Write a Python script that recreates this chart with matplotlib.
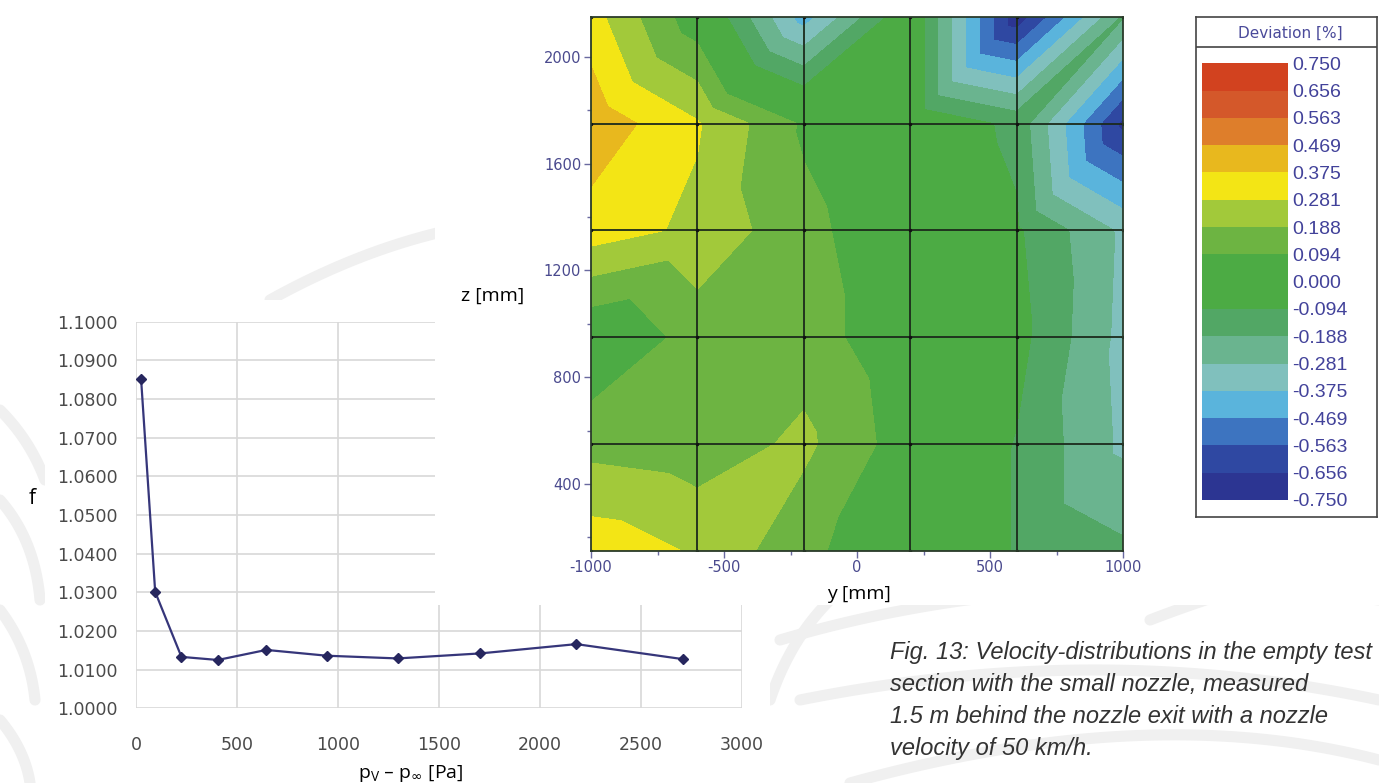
import matplotlib
matplotlib.use("Agg")
import matplotlib.pyplot as plt
import matplotlib.tri as mtri
import numpy as np
from matplotlib.colors import BoundaryNorm, ListedColormap

plt.rcParams["axes.unicode_minus"] = False

W, H = 1379, 783

# --- line chart: factor f over p_V - p_inf ---
dp = [25, 95, 225, 405, 645, 945, 1295, 1705, 2180, 2710]
f_val = [1.0853, 1.0301, 1.0133, 1.0125, 1.0151, 1.0136, 1.0129, 1.0142, 1.0166, 1.0127]
dp_ticks = [0, 500, 1000, 1500, 2000, 2500, 3000]
f_ticks = [1.00, 1.01, 1.02, 1.03, 1.04, 1.05, 1.06, 1.07, 1.08, 1.09, 1.10]

# --- contour: deviation measured on a 6 x 6 grid ---
grid_y = [-1000, -600, -200, 200, 600, 1000]
grid_z = [150, 550, 950, 1350, 1750, 2150]
deviation = [
    [0.34, 0.27, 0.12, 0.00, -0.10, -0.17],    # z = 150
    [0.155, 0.13, 0.21, 0.04, -0.10, -0.30],   # z = 550
    [0.00, 0.13, 0.14, 0.02, -0.06, -0.31],    # z = 950
    [0.33, 0.26, 0.12, 0.02, -0.08, -0.30],    # z = 1350
    [0.44, 0.29, 0.08, 0.00, -0.12, -0.68],    # z = 1750
    [0.32, 0.03, -0.42, 0.00, -0.72, -0.18],   # z = 2150
]
level_labels = ["0.750", "0.656", "0.563", "0.469", "0.375", "0.281", "0.188",
                "0.094", "0.000", "-0.094", "-0.188", "-0.281", "-0.375",
                "-0.469", "-0.563", "-0.656", "-0.750"]
# band colours, lowest band first
band_colors = ["#2c3592", "#2f48a2", "#3d74c0", "#5ab4dc", "#80c0bd", "#6ab48f",
               "#52a765", "#4cab44", "#4cab44", "#6db442", "#a2c93a", "#f3e515",
               "#e8b81e", "#de7e2b", "#d4582a", "#d2421f"]

caption = ["Fig. 13: Velocity-distributions in the empty test",
           "section with the small nozzle, measured",
           "1.5 m behind the nozzle exit with a nozzle",
           "velocity of 50 km/h."]


def box(l, t, r, b):
    # pixel box (top-left origin) -> figure fraction rect
    return [l / W, 1 - b / H, (r - l) / W, (b - t) / H]


fig = plt.figure(figsize=(W / 100, H / 100), dpi=100)
fig.patch.set_facecolor("white")

# background with faint swooshes
bg = fig.add_axes([0, 0, 1, 1], zorder=0)
bg.set_xlim(0, W)
bg.set_ylim(H, 0)
bg.axis("off")
t = np.linspace(0, 1, 60)
swooshes = [
    [(270, 300), (360, 250), (450, 230)],
    [(0, 410), (30, 440), (45, 480)],
    [(0, 500), (35, 540), (40, 600)],
    [(0, 610), (30, 650), (35, 700)],
    [(0, 720), (25, 750), (30, 783)],
    [(770, 700), (790, 640), (830, 600)],
    [(780, 640), (1050, 560), (1379, 600)],
    [(800, 700), (1100, 640), (1379, 700)],
    [(850, 783), (1150, 700), (1379, 760)],
    [(1150, 620), (1280, 570), (1379, 560)],
]
for p0, p1, p2 in swooshes:
    xs = (1 - t) ** 2 * p0[0] + 2 * (1 - t) * t * p1[0] + t ** 2 * p2[0]
    ys = (1 - t) ** 2 * p0[1] + 2 * (1 - t) * t * p1[1] + t ** 2 * p2[1]
    bg.plot(xs, ys, color="#f0f0f0", lw=8, solid_capstyle="round")

for i, line in enumerate(caption):
    bg.text(890, 653 + i * 31.7, line, ha="left", va="center", fontsize=17,
            style="italic", family="Liberation Sans", color="#333333")

# white panel of the line chart
lp = fig.add_axes(box(45, 300, 770, 783), zorder=1)
lp.axis("off")
lp.add_patch(plt.Rectangle((0, 0), 1, 1, transform=lp.transAxes, color="white"))

ax = fig.add_axes(box(136, 321.7, 742, 708.3), zorder=2)
ax.plot(dp, f_val, color="#36367a", lw=1.6, marker="D", ms=5.5,
        mfc="#26265e", mec="#26265e")
ax.set_xlim(0, 3000)
ax.set_ylim(1.0, 1.1)
ax.set_xticks(dp_ticks)
ax.set_yticks(f_ticks)
ax.set_yticklabels([f"{v:.4f}" for v in f_ticks])
ax.grid(True, color="#d8d8d8", lw=1.2)
ax.set_axisbelow(True)
for s in ax.spines.values():
    s.set_visible(False)
ax.tick_params(length=0, labelsize=12.5, labelcolor="#4a4a4a")
ax.tick_params(axis="y", pad=13)
ax.tick_params(axis="x", pad=20)
ax.annotate("f", xy=(32, H - 498), xycoords="figure pixels", ha="center",
            va="center", fontsize=15, family="Open Sans")
ax.annotate(r"p$_\mathregular{V}$ – p$_\infty$ [Pa]", xy=(411, H - 773),
            xycoords="figure pixels", ha="center", va="center", fontsize=14,
            family="Open Sans")

# white panel of the contour figure
cp = fig.add_axes(box(435, 0, 1379, 605), zorder=3)
cp.axis("off")
cp.add_patch(plt.Rectangle((0, 0), 1, 1, transform=cp.transAxes, color="white"))

levels = sorted(float(v) for v in level_labels)
cmap = ListedColormap(band_colors)
norm = BoundaryNorm(levels, cmap.N)

cx = fig.add_axes(box(591, 16.7, 1123, 550.7), zorder=4)
Y, Z = np.meshgrid(grid_y, grid_z)
D = np.array(deviation)
ny, nz = len(grid_y), len(grid_z)
tris = []
for j in range(nz - 1):
    for i in range(ny - 1):
        ll = j * ny + i
        lr, ul, ur = ll + 1, ll + ny, ll + ny + 1
        tris.append([ll, lr, ur])
        tris.append([ll, ur, ul])
tri = mtri.Triangulation(Y.ravel(), Z.ravel(), tris)
cs = cx.tricontourf(tri, D.ravel(), levels=levels, cmap=cmap, norm=norm)
for y in grid_y[1:-1]:
    cx.axvline(y, color="#1c2a1c", lw=1.3)
for z in grid_z[1:-1]:
    cx.axhline(z, color="#1c2a1c", lw=1.3)
cx.plot(Y.ravel(), Z.ravel(), ".", color="#111111", ms=3)
cx.set_xlim(-1000, 1000)
cx.set_ylim(150, 2150)
cx.set_xticks([-1000, -500, 0, 500, 1000])
cx.set_xticks([-750, -250, 250, 750], minor=True)
cx.set_yticks([400, 800, 1200, 1600, 2000])
cx.set_yticks([200, 600, 1000, 1400, 1800], minor=True)
for s in cx.spines.values():
    s.set_color("#2a3a2a")
    s.set_linewidth(1.3)
cx.tick_params(which="both", length=5, width=1, color="#6a6aa0",
               labelsize=10.5, labelcolor="#4a4a8e", pad=2)
cx.tick_params(which="minor", length=3)
cx.annotate("z [mm]", xy=(524, H - 296), xycoords="figure pixels", ha="right",
            va="center", fontsize=14, family="Open Sans")
cx.annotate("y [mm]", xy=(827, H - 594), xycoords="figure pixels", ha="left",
            va="center", fontsize=14, family="Open Sans")

# colour legend box
lb = fig.add_axes(box(1196, 16.7, 1377, 516.7), zorder=4)
lb.set_xticks([])
lb.set_yticks([])
for s in lb.spines.values():
    s.set_color("#444444")
    s.set_linewidth(1.2)
lb.axhline(1 - 30 / 500, color="#444444", lw=1.2)
lb.text(0.52, 1 - 16.5 / 500, "Deviation [%]", transform=lb.transAxes,
        ha="center", va="center", fontsize=11, color="#4a4a9a")

cax = fig.add_axes(box(1201.7, 63.3, 1288.3, 500), zorder=5)
cb = fig.colorbar(cs, cax=cax, ticks=levels)
cb.outline.set_visible(False)
cb.ax.set_yticklabels(level_labels[::-1])
cax.tick_params(length=0, pad=3, labelsize=14, labelcolor="#42429a")
for lab in cax.get_yticklabels():
    lab.set_family("Liberation Sans")

fig.savefig("out.png", dpi=100)
